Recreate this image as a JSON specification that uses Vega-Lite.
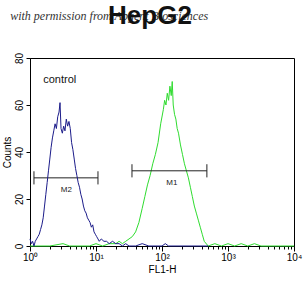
{
  "$schema": "https://vega.github.io/schema/vega-lite/v6.json",
  "width": 264,
  "height": 188,
  "autosize": {"type": "none"},
  "padding": {"left": 30, "top": 58, "right": 11, "bottom": 50},
  "background": "white",
  "config": {
    "view": {"stroke": "black", "strokeWidth": 1},
    "font": "Liberation Sans",
    "axis": {"grid": false, "domainColor": "black", "tickColor": "black", "labelColor": "black", "titleColor": "black", "labelFont": "Liberation Sans", "titleFont": "Liberation Sans", "titleFontWeight": "normal", "labelFlush": false}
  },
  "title": {"text": "HepG2", "fontSize": 26, "font": "Liberation Sans", "fontWeight": "bold", "frame": "group", "offset": -19, "dx": -12, "color": "#111111"},
  "datasets": {
    "green": [
      {"log": 0.0, "count": 0}, {"log": 0.3, "count": 0}, {"log": 0.5, "count": 1}, {"log": 0.6, "count": 0}, {"log": 0.9, "count": 0}, {"log": 1.0, "count": 1}, {"log": 1.1, "count": 0}, {"log": 1.2, "count": 1}, {"log": 1.3, "count": 1}, {"log": 1.35, "count": 2}, {"log": 1.4, "count": 1}, {"log": 1.45, "count": 2}, {"log": 1.5, "count": 3}, {"log": 1.55, "count": 4}, {"log": 1.6, "count": 6}, {"log": 1.65, "count": 10}, {"log": 1.7, "count": 16}, {"log": 1.74, "count": 21}, {"log": 1.78, "count": 26}, {"log": 1.82, "count": 30}, {"log": 1.86, "count": 35}, {"log": 1.9, "count": 39}, {"log": 1.94, "count": 44}, {"log": 1.98, "count": 52}, {"log": 2.02, "count": 58}, {"log": 2.04, "count": 62}, {"log": 2.06, "count": 60}, {"log": 2.08, "count": 65}, {"log": 2.1, "count": 62}, {"log": 2.12, "count": 68}, {"log": 2.14, "count": 64}, {"log": 2.155, "count": 70}, {"log": 2.17, "count": 60}, {"log": 2.19, "count": 56}, {"log": 2.21, "count": 54}, {"log": 2.23, "count": 50}, {"log": 2.25, "count": 48}, {"log": 2.28, "count": 43}, {"log": 2.31, "count": 39}, {"log": 2.34, "count": 35}, {"log": 2.37, "count": 32}, {"log": 2.4, "count": 29}, {"log": 2.43, "count": 25}, {"log": 2.46, "count": 21}, {"log": 2.49, "count": 17}, {"log": 2.52, "count": 14}, {"log": 2.55, "count": 11}, {"log": 2.58, "count": 8}, {"log": 2.61, "count": 5}, {"log": 2.64, "count": 2}, {"log": 2.7, "count": 0}, {"log": 2.8, "count": 1}, {"log": 2.9, "count": 0}, {"log": 3.0, "count": 1}, {"log": 3.1, "count": 0}, {"log": 3.2, "count": 1}, {"log": 3.3, "count": 0}, {"log": 3.4, "count": 1}, {"log": 3.5, "count": 0}, {"log": 3.8, "count": 0}, {"log": 4.0, "count": 0}
    ],
    "blue": [
      {"log": 0.0, "count": 3}, {"log": 0.02, "count": 1}, {"log": 0.04, "count": 2}, {"log": 0.06, "count": 0}, {"log": 0.08, "count": 2}, {"log": 0.1, "count": 3}, {"log": 0.12, "count": 4}, {"log": 0.14, "count": 5}, {"log": 0.16, "count": 7}, {"log": 0.18, "count": 9}, {"log": 0.2, "count": 12}, {"log": 0.22, "count": 17}, {"log": 0.24, "count": 22}, {"log": 0.26, "count": 27}, {"log": 0.28, "count": 32}, {"log": 0.3, "count": 37}, {"log": 0.32, "count": 42}, {"log": 0.34, "count": 46}, {"log": 0.36, "count": 49}, {"log": 0.38, "count": 52}, {"log": 0.4, "count": 50}, {"log": 0.42, "count": 55}, {"log": 0.44, "count": 57}, {"log": 0.455, "count": 61}, {"log": 0.47, "count": 50}, {"log": 0.49, "count": 48}, {"log": 0.51, "count": 51}, {"log": 0.53, "count": 49}, {"log": 0.55, "count": 54}, {"log": 0.57, "count": 51}, {"log": 0.59, "count": 53}, {"log": 0.61, "count": 50}, {"log": 0.63, "count": 44}, {"log": 0.65, "count": 41}, {"log": 0.67, "count": 37}, {"log": 0.69, "count": 33}, {"log": 0.71, "count": 30}, {"log": 0.73, "count": 27}, {"log": 0.75, "count": 25}, {"log": 0.77, "count": 22}, {"log": 0.79, "count": 20}, {"log": 0.81, "count": 17}, {"log": 0.83, "count": 15}, {"log": 0.85, "count": 14}, {"log": 0.87, "count": 12}, {"log": 0.89, "count": 11}, {"log": 0.91, "count": 10}, {"log": 0.93, "count": 8}, {"log": 0.95, "count": 9}, {"log": 0.97, "count": 6}, {"log": 0.99, "count": 5}, {"log": 1.01, "count": 4}, {"log": 1.03, "count": 3}, {"log": 1.05, "count": 2}, {"log": 1.08, "count": 3}, {"log": 1.12, "count": 2}, {"log": 1.16, "count": 2}, {"log": 1.2, "count": 1}, {"log": 1.25, "count": 2}, {"log": 1.3, "count": 1}, {"log": 1.35, "count": 1}, {"log": 1.4, "count": 0}, {"log": 1.45, "count": 1}, {"log": 1.5, "count": 0}, {"log": 1.6, "count": 0}, {"log": 1.7, "count": 1}, {"log": 1.8, "count": 0}, {"log": 2.0, "count": 0}, {"log": 2.05, "count": 1}, {"log": 2.1, "count": 0}, {"log": 2.5, "count": 0}, {"log": 2.7, "count": 0}
    ],
    "markers": [
      {"name": "M2", "x1": 0.06, "x2": 1.03, "y": 29, "labelX": 0.55, "labelY": 24},
      {"name": "M1", "x1": 1.545, "x2": 2.68, "y": 32, "labelX": 2.15, "labelY": 27}
    ],
    "ends": [
      {"x": 0.06, "y1": 26.2, "y2": 31.8},
      {"x": 1.03, "y1": 26.2, "y2": 31.8},
      {"x": 1.545, "y1": 29.2, "y2": 34.8},
      {"x": 2.68, "y1": 29.2, "y2": 34.8}
    ],
    "notes": [
      {"text": "control", "x": 0.2, "y": 70.5}
    ],
    "watermark": [
      {"text": "with permission from Abgent Biosciences", "x": -0.3, "y": 98}
    ]
  },
  "resolve": {"axis": {"x": "independent"}},
  "layer": [
    {
      "layer": [
        {
          "data": {"name": "green"},
          "mark": {"type": "line", "color": "#2fdc2f", "strokeWidth": 1, "interpolate": "linear"},
          "encoding": {
            "x": {"field": "log", "type": "quantitative", "scale": {"domain": [0, 4], "nice": false, "zero": false},
              "axis": {"title": "FL1-H", "titleFontSize": 10, "titlePadding": 2, "labelFontSize": 10, "orient": "bottom",
                "values": [0, 1, 2, 3, 4],
                "labelExpr": "datum.value == 0 ? '10⁰' : datum.value == 1 ? '10¹' : datum.value == 2 ? '10²' : datum.value == 3 ? '10³' : '10⁴'",
                "tickSize": 5, "labelPadding": 1}},
            "y": {"field": "count", "type": "quantitative", "scale": {"domain": [0, 80], "nice": false},
              "axis": {"title": "Counts", "titleFontSize": 10, "labelFontSize": 10, "values": [0, 10, 20, 30, 40, 50, 60, 70, 80], "labelAngle": -90, "tickSize": 4, "titlePadding": 2, "labelPadding": 2}}
          }
        },
        {
          "data": {"name": "markers"},
          "mark": {"type": "rule", "color": "#222222", "strokeWidth": 1},
          "encoding": {
            "x": {"field": "x1", "type": "quantitative"},
            "x2": {"field": "x2"},
            "y": {"field": "y", "type": "quantitative"}
          }
        },
        {
          "data": {"name": "ends"},
          "mark": {"type": "rule", "color": "#222222", "strokeWidth": 1},
          "encoding": {
            "x": {"field": "x", "type": "quantitative"},
            "y": {"field": "y1", "type": "quantitative"},
            "y2": {"field": "y2"}
          }
        },
        {
          "data": {"name": "markers"},
          "mark": {"type": "text", "fontSize": 8, "color": "#222222", "font": "Liberation Sans"},
          "encoding": {
            "x": {"field": "labelX", "type": "quantitative"},
            "y": {"field": "labelY", "type": "quantitative"},
            "text": {"field": "name"}
          }
        },
        {
          "data": {"name": "notes"},
          "mark": {"type": "text", "fontSize": 11, "color": "#111111", "align": "left", "font": "Liberation Sans"},
          "encoding": {
            "x": {"field": "x", "type": "quantitative"},
            "y": {"field": "y", "type": "quantitative"},
            "text": {"field": "text"}
          }
        },
        {
          "data": {"name": "watermark"},
          "mark": {"type": "text", "fontSize": 12, "color": "#333333", "align": "left", "font": "Liberation Serif", "fontStyle": "italic", "clip": false},
          "encoding": {
            "x": {"field": "x", "type": "quantitative"},
            "y": {"field": "y", "type": "quantitative"},
            "text": {"field": "text"}
          }
        }
      ]
    },
    {
      "data": {"name": "blue"},
      "mark": {"type": "line", "color": "#1c1c8a", "strokeWidth": 1},
      "encoding": {
        "x": {"field": "log", "type": "quantitative",
          "axis": {"orient": "bottom", "title": null, "labels": false, "domain": false, "tickSize": 3,
            "values": [0.30103, 0.47712, 0.60206, 0.69897, 0.77815, 0.8451, 0.90309, 0.95424, 1.30103, 1.47712, 1.60206, 1.69897, 1.77815, 1.8451, 1.90309, 1.95424, 2.30103, 2.47712, 2.60206, 2.69897, 2.77815, 2.8451, 2.90309, 2.95424, 3.30103, 3.47712, 3.60206, 3.69897, 3.77815, 3.8451, 3.90309, 3.95424]}},
        "y": {"field": "count", "type": "quantitative"}
      }
    }
  ]
}
